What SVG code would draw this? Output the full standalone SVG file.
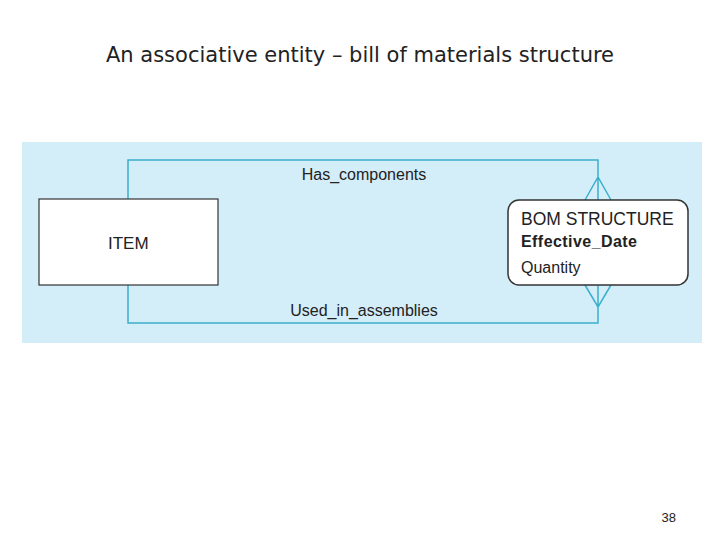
<svg xmlns="http://www.w3.org/2000/svg" width="720" height="540" viewBox="0 0 720 540">
<style>
text{font-family:"Liberation Sans",Arial,sans-serif;fill:#222}
.c{stroke:#3bb0cc;stroke-width:1.5;fill:none}
</style>
<rect width="720" height="540" fill="#fff"/>
<text x="360" y="62" text-anchor="middle" font-size="21" style="font-family:'DejaVu Sans',sans-serif" fill="#000">An associative entity – bill of materials structure</text>
<rect x="22" y="142" width="680" height="201" fill="#d3edf9"/>
<g id="connectors">
<path class="c" d="M128 199V160H598V200M585 200L598 177L611 200"/>
<path class="c" d="M128 285V323H598V285M585 285L598 307L611 285"/>
<text x="364" y="180" text-anchor="middle" font-size="16">Has_components</text>
<text x="364" y="316" text-anchor="middle" font-size="16">Used_in_assemblies</text>
</g>
<g id="item">
<rect x="39" y="199" width="179" height="86" fill="#fff" stroke="#333" stroke-width="1.2"/>
<text x="108" y="249" font-size="17">ITEM</text>
</g>
<g id="bom">
<rect x="508" y="200" width="180" height="85" rx="11" fill="#fff" stroke="#333" stroke-width="1.5"/>
<text x="521" y="225" font-size="17.5">BOM STRUCTURE</text>
<text x="521" y="247" font-size="16" font-weight="bold" textLength="116">Effective_Date</text>
<text x="521" y="273" font-size="16">Quantity</text>
</g>
<text x="676" y="522" text-anchor="end" font-size="13">38</text>
</svg>
